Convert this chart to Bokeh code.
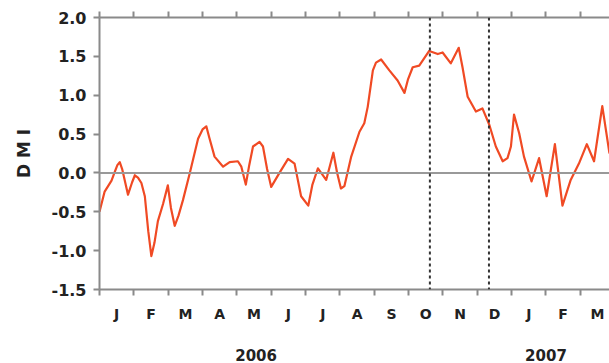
from bokeh.plotting import figure
from bokeh.models import Range1d, LinearAxis, FixedTicker, Span
from bokeh.embed import file_html
from bokeh.resources import INLINE

# months since 1 Jan 2006
months = [0.0, 0.15, 0.35, 0.45, 0.52, 0.59, 0.66, 0.83, 0.95, 1.03, 1.12, 1.22, 1.32, 1.42, 1.51,
          1.60, 1.70, 1.85, 1.99, 2.08, 2.19, 2.30, 2.43, 2.63, 2.87, 3.0, 3.11, 3.20, 3.35, 3.60,
          3.79, 4.03, 4.13, 4.26, 4.36, 4.47, 4.66, 4.76, 4.88, 5.0, 5.24, 5.49, 5.68, 5.87, 6.08,
          6.20, 6.36, 6.60, 6.81, 6.92, 7.03, 7.13, 7.33, 7.57, 7.71, 7.81, 7.96, 8.05, 8.20, 8.44,
          8.68, 8.88, 8.98, 9.12, 9.31, 9.60, 9.85, 9.99, 10.23, 10.46, 10.57, 10.72, 10.96, 11.15,
          11.35, 11.54, 11.74, 11.88, 11.98, 12.07, 12.22, 12.36, 12.58, 12.80, 13.02, 13.26, 13.48,
          13.72, 13.96, 14.19, 14.40, 14.64, 14.85]
dmi = [-0.50, -0.24, -0.10, 0.02, 0.10, 0.14, 0.05, -0.28, -0.12, -0.03, -0.06, -0.13, -0.30, -0.75,
       -1.07, -0.90, -0.62, -0.40, -0.16, -0.45, -0.68, -0.55, -0.35, 0.0, 0.44, 0.56, 0.60, 0.45,
       0.21, 0.08, 0.14, 0.15, 0.08, -0.15, 0.10, 0.34, 0.40, 0.34, 0.05, -0.18, 0.0, 0.18, 0.12,
       -0.30, -0.42, -0.15, 0.06, -0.09, 0.26, 0.0, -0.20, -0.17, 0.21, 0.53, 0.64, 0.85, 1.32, 1.42,
       1.46, 1.32, 1.19, 1.03, 1.20, 1.36, 1.38, 1.57, 1.53, 1.55, 1.41, 1.61, 1.36, 0.98, 0.79, 0.83,
       0.62, 0.34, 0.15, 0.19, 0.34, 0.75, 0.51, 0.21, -0.11, 0.19, -0.30, 0.37, -0.42, -0.09, 0.12,
       0.37, 0.15, 0.86, 0.25]

month_labels = ["J", "F", "M", "A", "M", "J", "J", "A", "S", "O", "N", "D", "J", "F", "M"]
year_labels = ["2006", "2007"]
year_pos = [4.56, 13.0]
event_lines = [9.62, 11.34]
y_ticks = [-1.5, -1.0, -0.5, 0.0, 0.5, 1.0, 1.5, 2.0]

FONT = "DejaVu Sans"
AX = "#8a8a8a"
TXT = "#222222"

p = figure(width=609, height=363, output_backend="svg", toolbar_location=None,
           x_range=Range1d(0, 14.85), y_range=Range1d(-1.5, 2.0),
           x_axis_location=None, y_axis_location=None,
           min_border_left=99, min_border_right=0, min_border_top=17, min_border_bottom=20)
p.outline_line_color = None
p.xgrid.visible = False
p.ygrid.visible = False
p.background_fill_color = "white"
p.border_fill_color = "white"

# left axis
yax = LinearAxis(ticker=FixedTicker(ticks=y_ticks, minor_ticks=[]))
yax.major_label_overrides = {t: f"{t:.1f}" for t in y_ticks}
yax.axis_line_color = AX
yax.axis_line_width = 2
yax.major_tick_line_color = AX
yax.major_tick_line_width = 2
yax.major_tick_out = 6
yax.major_tick_in = 0
yax.minor_tick_line_color = None
yax.major_label_text_font = FONT
yax.major_label_text_font_style = "bold"
yax.major_label_text_font_size = "16px"
yax.major_label_text_color = TXT
yax.major_label_standoff = 7
yax.axis_label = "D M I"
yax.axis_label_text_font = FONT
yax.axis_label_text_font_style = "bold"
yax.axis_label_text_font_size = "17px"
yax.axis_label_text_color = TXT
yax.axis_label_standoff = 15
p.add_layout(yax, "left")

month_starts = list(range(0, 15))
mid = [i + 0.5 for i in range(15)]

# bottom month axis
xax = LinearAxis(ticker=FixedTicker(ticks=mid, minor_ticks=month_starts))
xax.major_label_overrides = {m: l for m, l in zip(mid, month_labels)}
xax.axis_line_color = AX
xax.axis_line_width = 2
xax.major_tick_line_color = None
xax.minor_tick_line_color = AX
xax.minor_tick_line_width = 2
xax.minor_tick_out = 6
xax.minor_tick_in = 0
xax.major_label_text_font = FONT
xax.major_label_text_font_style = "bold"
xax.major_label_text_font_size = "14px"
xax.major_label_text_color = TXT
xax.major_label_standoff = 10
p.add_layout(xax, "below")

# year axis
yrax = LinearAxis(ticker=FixedTicker(ticks=year_pos, minor_ticks=[]))
yrax.major_label_overrides = {m: l for m, l in zip(year_pos, year_labels)}
yrax.axis_line_color = None
yrax.major_tick_line_color = None
yrax.minor_tick_line_color = None
yrax.major_label_text_font = FONT
yrax.major_label_text_font_style = "bold"
yrax.major_label_text_font_size = "15px"
yrax.major_label_text_color = TXT
yrax.major_label_standoff = 18
p.add_layout(yrax, "below")

# top axis
tax = LinearAxis(ticker=FixedTicker(ticks=[], minor_ticks=month_starts))
tax.axis_line_color = AX
tax.axis_line_width = 2
tax.major_tick_line_color = None
tax.minor_tick_line_color = AX
tax.minor_tick_line_width = 2
tax.minor_tick_out = 6
tax.minor_tick_in = 0
tax.major_label_text_font_size = "0px"
p.add_layout(tax, "above")

p.add_layout(Span(location=0, dimension="width", line_color="#999999", line_width=2))
for x in event_lines:
    p.add_layout(Span(location=x, dimension="height", line_color="#333333",
                      line_width=2, line_dash="3 3"))

p.line(months, dmi, line_color="#F04A24", line_width=2.2, line_join="round")

open("out.html", "w").write(file_html(p, INLINE))
